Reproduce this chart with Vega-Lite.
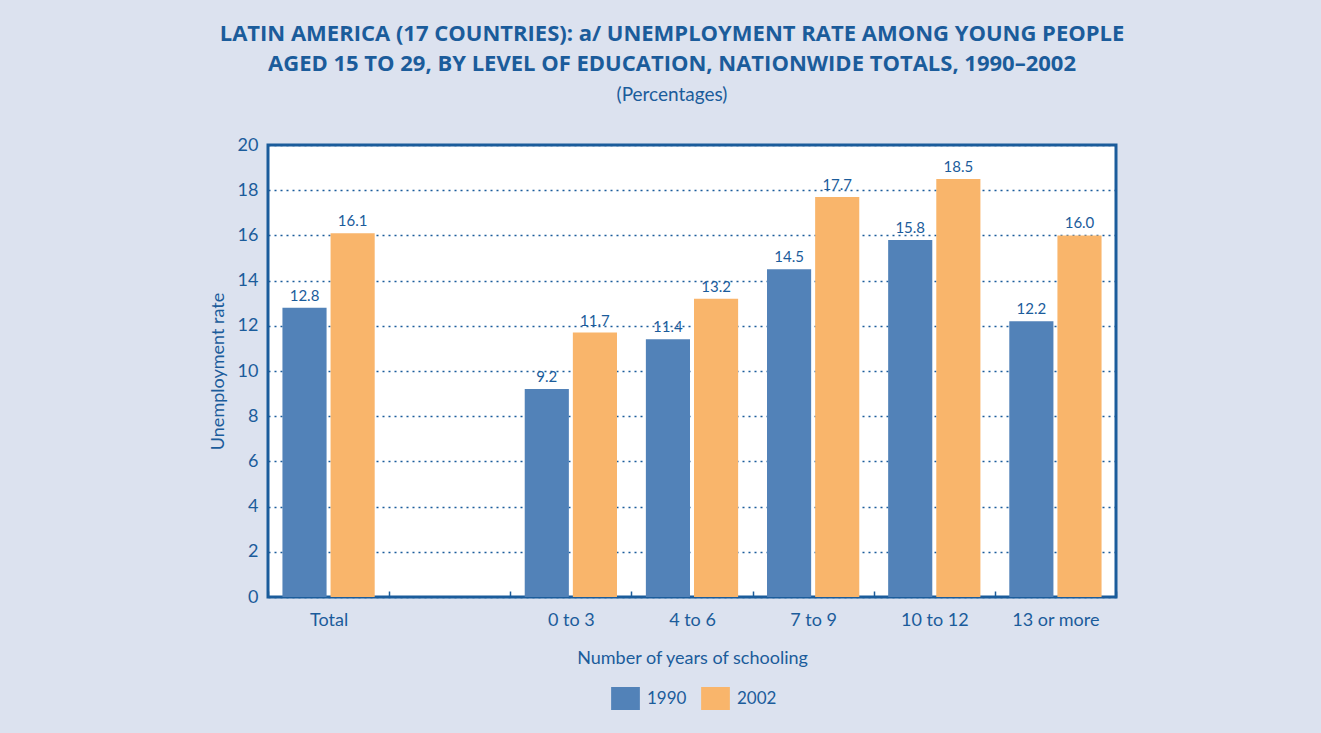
{
  "$schema": "https://vega.github.io/schema/vega-lite/v6.json",
  "autosize": "none",
  "width": 848,
  "height": 452,
  "padding": {"left": 268, "top": 145, "right": 205, "bottom": 136},
  "background": "#dce2ef",
  "title": {
    "text": ["LATIN AMERICA (17 COUNTRIES): a/ UNEMPLOYMENT RATE AMONG YOUNG PEOPLE", "AGED 15 TO 29, BY LEVEL OF EDUCATION, NATIONWIDE TOTALS, 1990–2002"],
    "subtitle": "(Percentages)",
    "anchor": "middle",
    "frame": "group",
    "dx": -20,
    "offset": 30,
    "font": "Open Sans",
    "fontSize": 22,
    "fontWeight": "bold",
    "lineHeight": 30,
    "color": "#1b5c9b",
    "subtitleFont": "Lato",
    "subtitleFontSize": 19,
    "subtitleColor": "#1b5c9b",
    "subtitlePadding": 10
  },
  "data": {
    "values": [
      {"group": "Total", "year": "1990", "rate": 12.8},
      {"group": "Total", "year": "2002", "rate": 16.1},
      {"group": "0 to 3", "year": "1990", "rate": 9.2},
      {"group": "0 to 3", "year": "2002", "rate": 11.7},
      {"group": "4 to 6", "year": "1990", "rate": 11.4},
      {"group": "4 to 6", "year": "2002", "rate": 13.2},
      {"group": "7 to 9", "year": "1990", "rate": 14.5},
      {"group": "7 to 9", "year": "2002", "rate": 17.7},
      {"group": "10 to 12", "year": "1990", "rate": 15.8},
      {"group": "10 to 12", "year": "2002", "rate": 18.5},
      {"group": "13 or more", "year": "1990", "rate": 12.2},
      {"group": "13 or more", "year": "2002", "rate": 16.0}
    ]
  },
  "encoding": {
    "x": {
      "field": "group",
      "type": "nominal",
      "sort": null,
      "scale": {"domain": ["Total", " ", "0 to 3", "4 to 6", "7 to 9", "10 to 12", "13 or more"], "paddingInner": 0, "paddingOuter": 0},
      "axis": {
        "title": "Number of years of schooling",
        "labelAngle": 0,
        "domain": false,
        "tickBand": "extent",
        "tickSize": -6,
        "tickColor": "#1b5c9b",
        "tickWidth": 1.5,
        "labelPadding": 20,
        "titlePadding": 20
      }
    },
    "xOffset": {
      "field": "year",
      "type": "nominal",
      "scale": {"paddingInner": 0.083, "paddingOuter": 0.3}
    },
    "y": {
      "field": "rate",
      "type": "quantitative",
      "scale": {"domain": [0, 20], "nice": false},
      "axis": {
        "title": "Unemployment rate",
        "values": [0, 2, 4, 6, 8, 10, 12, 14, 16, 18, 20],
        "domain": false,
        "ticks": false,
        "labelPadding": 10,
        "titlePadding": 10,
        "grid": true,
        "gridDash": [2, 4],
        "gridColor": "#1b5c9b",
        "gridWidth": 1.5
      }
    }
  },
  "layer": [
    {
      "mark": {"type": "bar"},
      "encoding": {
        "color": {
          "field": "year",
          "type": "nominal",
          "scale": {"domain": ["1990", "2002"], "range": ["#5282b8", "#f9b56b"]},
          "legend": {
            "title": null,
            "orient": "none",
            "direction": "horizontal",
            "legendX": 346,
            "legendY": 542,
            "symbolType": "M-1.25,-1L1.25,-1L1.25,1L-1.25,1Z",
            "symbolSize": 529,
            "symbolStrokeWidth": 0,
            "labelFont": "Lato",
            "labelFontSize": 17,
            "labelColor": "#1b5c9b",
            "labelOffset": 10,
            "columnPadding": 14
          }
        }
      }
    },
    {
      "mark": {"type": "text", "baseline": "bottom", "dy": -4, "font": "Lato", "fontSize": 15, "color": "#1b5c9b"},
      "encoding": {
        "text": {"field": "rate", "type": "quantitative", "format": ".1f"}
      }
    }
  ],
  "config": {
    "view": {"fill": "white", "stroke": "#1b5c9b", "strokeWidth": 3},
    "axis": {
      "labelFont": "Lato",
      "labelFontSize": 18,
      "labelColor": "#1b5c9b",
      "titleFont": "Lato",
      "titleFontSize": 18,
      "titleFontWeight": "normal",
      "titleColor": "#1b5c9b"
    }
  }
}
